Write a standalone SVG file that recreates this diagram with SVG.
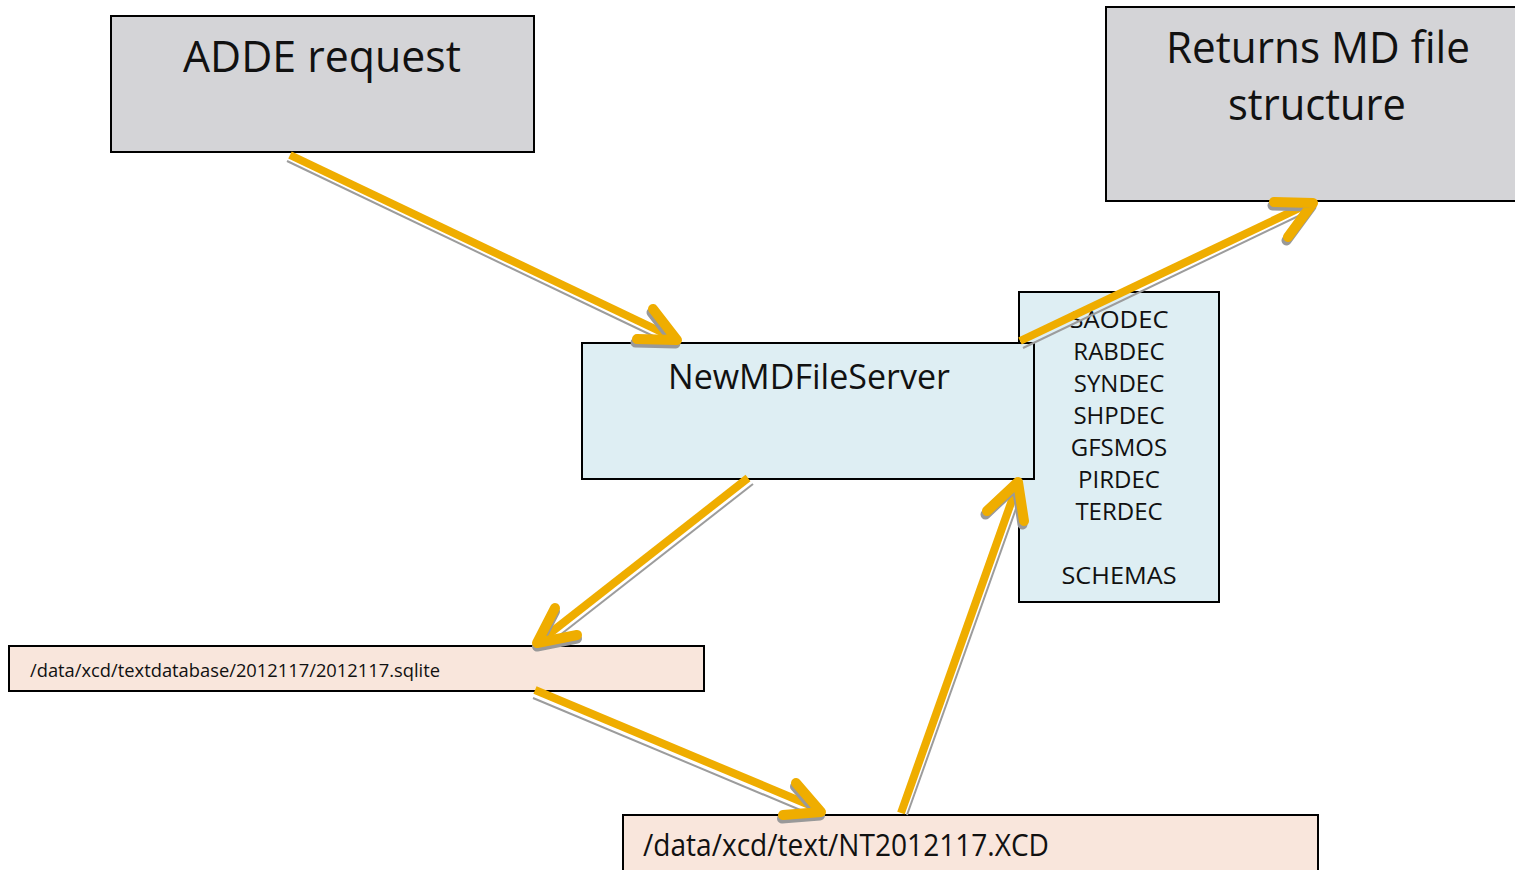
<svg xmlns="http://www.w3.org/2000/svg" xmlns:xlink="http://www.w3.org/1999/xlink" width="1515" height="870" viewBox="0 0 1515 870">
<style>
.box{stroke:#000;stroke-width:2}
.gray{fill:#d4d4d7}
.blue{fill:#deeef3}
.pink{fill:#f9e6dc}
text{font-family:"Open Sans","Noto Sans","Liberation Sans",sans-serif;fill:#111}
.shaft{fill:none;stroke:#efad00;stroke-width:8;stroke-linecap:butt}
.line{fill:none;stroke:#9c9c9c;stroke-width:2}
.head{fill:none;stroke:#efad00;stroke-width:10;stroke-linecap:round;stroke-linejoin:round}
.hshadow{fill:none;stroke:#999;stroke-width:10;stroke-linecap:round;stroke-linejoin:round}
</style>
<rect width="1515" height="870" fill="#fff"/>
<g id="adde">
<rect class="box gray" x="111" y="16" width="423" height="136"/>
<text x="322" y="72" font-size="44" text-anchor="middle" textLength="278" lengthAdjust="spacingAndGlyphs">ADDE request</text>
</g>
<g id="returns">
<rect class="box gray" x="1106" y="7" width="412" height="194"/>
<text x="1318" y="63" font-size="44" text-anchor="middle" textLength="304" lengthAdjust="spacingAndGlyphs">Returns MD file</text>
<text x="1317" y="120" font-size="44" text-anchor="middle" textLength="178" lengthAdjust="spacingAndGlyphs">structure</text>
</g>
<g id="decoders">
<rect class="box blue" x="1019" y="292" width="200" height="310"/>
<g font-size="24" text-anchor="middle">
<text x="1119" y="328" textLength="99" lengthAdjust="spacingAndGlyphs">SAODEC</text>
<text x="1119" y="360">RABDEC</text>
<text x="1119" y="392">SYNDEC</text>
<text x="1119" y="424">SHPDEC</text>
<text x="1119" y="456">GFSMOS</text>
<text x="1119" y="488">PIRDEC</text>
<text x="1119" y="520">TERDEC</text>
<text x="1119" y="584" textLength="115" lengthAdjust="spacingAndGlyphs">SCHEMAS</text>
</g>
</g>
<g id="server">
<rect class="box blue" x="582" y="343" width="452" height="136"/>
<text x="809" y="389" font-size="34" text-anchor="middle" textLength="282" lengthAdjust="spacingAndGlyphs">NewMDFileServer</text>
</g>
<g id="sqlite">
<rect class="box pink" x="9" y="646" width="695" height="45"/>
<text x="30" y="677" font-size="19" textLength="410" lengthAdjust="spacingAndGlyphs">/data/xcd/textdatabase/2012117/2012117.sqlite</text>
</g>
<g id="xcd">
<rect class="box pink" x="623" y="815" width="695" height="60"/>
<text x="643" y="856" font-size="31" textLength="406" lengthAdjust="spacingAndGlyphs">/data/xcd/text/NT2012117.XCD</text>
</g>
<g id="connectors">
<path class="line" d="M287,161 L672,345"/>
<path class="shaft" d="M290,155 L674,338"/>
<path class="hshadow" transform="translate(-1.5,3.5)" d="M653,309 L677,340 L637,339"/>
<path class="head" d="M653,309 L677,340 L637,339"/>
<path class="line" d="M1023,348 L1311,210"/>
<path class="shaft" d="M1020,341 L1310,203"/>
<path class="hshadow" transform="translate(-1.5,3.5)" d="M1274,202 L1313,203 L1288,237"/>
<path class="head" d="M1274,202 L1313,203 L1288,237"/>
<path class="line" d="M753,484 L546,646"/>
<path class="shaft" d="M748,478 L540,641"/>
<path class="hshadow" transform="translate(0,3.5)" d="M555,608 L537,643 L577,635"/>
<path class="head" d="M555,608 L537,643 L577,635"/>
<path class="line" d="M533,698 L817,817"/>
<path class="shaft" d="M535,690 L819,809"/>
<path class="hshadow" transform="translate(-1,3.5)" d="M796,783 L821,812 L783,815"/>
<path class="head" d="M796,783 L821,812 L783,815"/>
<path class="line" d="M907,815 L1023,489"/>
<path class="shaft" d="M901,813 L1017,486"/>
<path class="hshadow" transform="translate(-1.5,3.5)" d="M987,511 L1018,482 L1024,521"/>
<path class="head" d="M987,511 L1018,482 L1024,521"/>
</g>
</svg>
